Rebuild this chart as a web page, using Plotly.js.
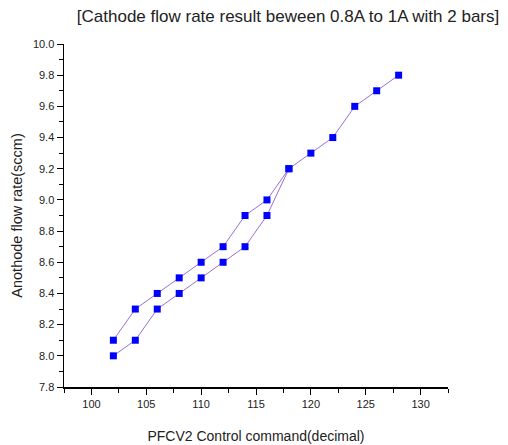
<!DOCTYPE html>
<html>
<head>
<meta charset="utf-8">
<script src="https://cdn.plot.ly/plotly-3.0.1.min.js"></script>
<style>
  html, body { margin: 0; padding: 0; background: #fff; }
  #chart { width: 508px; height: 445px; }
</style>
</head>
<body>
<div id="chart"></div>
<script>
// PFCV2 control command (decimal) and anode flow rate (sccm)
const cmdUpper = [102, 104, 106, 108, 110, 112, 114, 116, 118, 120, 122, 124, 126, 128];
const flowUpper = [8.1, 8.3, 8.4, 8.5, 8.6, 8.7, 8.9, 9.0, 9.2, 9.3, 9.4, 9.6, 9.7, 9.8];
const cmdLower = [102, 104, 106, 108, 110, 112, 114, 116, 118];
const flowLower = [8.0, 8.1, 8.3, 8.4, 8.5, 8.6, 8.7, 8.9, 9.2];

const lineStyle = { color: '#9b6fd6', width: 1 };
const markerStyle = { symbol: 'square', size: 7, color: '#0000ff' };

const traces = [
  { x: cmdUpper, y: flowUpper, mode: 'lines+markers', line: lineStyle, marker: markerStyle, showlegend: false },
  { x: cmdLower, y: flowLower, mode: 'lines+markers', line: lineStyle, marker: markerStyle, showlegend: false }
];

const fontFamily = 'Liberation Sans, Arial, sans-serif';

const layout = {
  width: 508,
  height: 445,
  margin: { l: 64, r: 60, t: 44, b: 58 },
  paper_bgcolor: '#fff',
  plot_bgcolor: '#fff',
  font: { family: fontFamily, color: '#222' },
  title: {
    text: '[Cathode flow rate result beween 0.8A to 1A with 2 bars]',
    font: { size: 17, color: '#222', family: fontFamily },
    x: 0.567, xref: 'container', xanchor: 'center',
    y: 0.965, yref: 'container', yanchor: 'middle'
  },
  xaxis: {
    range: [97.5, 132.5],
    dtick: 5,
    tick0: 100,
    ticks: 'outside',
    ticklen: 6,
    tickwidth: 1,
    tickcolor: '#000',
    minor: { dtick: 2.5, tick0: 97.5, ticks: 'outside', ticklen: 4, tickcolor: '#000' },
    showline: true,
    linecolor: '#000',
    linewidth: 1.5,
    showgrid: false,
    zeroline: false,
    tickfont: { size: 11, color: '#222' },
    title: { text: 'PFCV2 Control command(decimal)', font: { size: 14, color: '#222' }, standoff: 22 }
  },
  yaxis: {
    range: [7.8, 10.0],
    dtick: 0.2,
    tick0: 7.8,
    tickformat: '.1f',
    ticks: 'outside',
    ticklen: 6,
    tickwidth: 1,
    tickcolor: '#000',
    minor: { dtick: 0.1, ticks: 'outside', ticklen: 4, tickcolor: '#000' },
    showline: true,
    linecolor: '#000',
    linewidth: 1.5,
    showgrid: false,
    zeroline: false,
    tickfont: { size: 11, color: '#222' },
    title: { text: 'Anothode flow rate(sccm)', font: { size: 14.5, color: '#222' }, standoff: 7 }
  }
};

Plotly.newPlot('chart', traces, layout, { displayModeBar: false, staticPlot: true });
</script>
</body>
</html>
